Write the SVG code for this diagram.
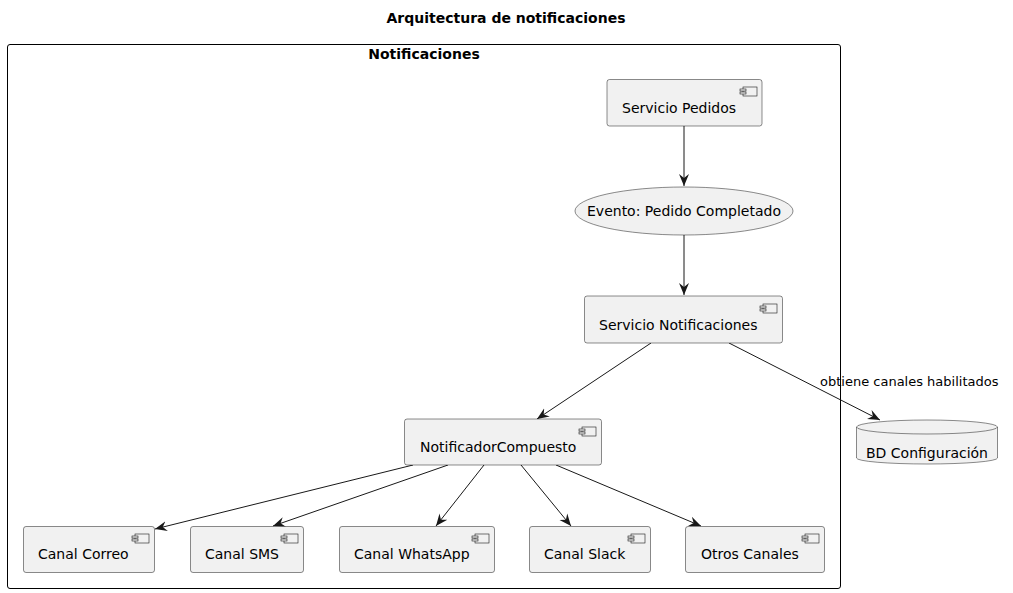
<svg xmlns="http://www.w3.org/2000/svg" width="1013" height="593" viewBox="0 0 1013 593">
<style>
.t{font-family:"DejaVu Sans",sans-serif;font-size:14px;fill:#000}
.b{font-family:"DejaVu Sans",sans-serif;font-size:14px;font-weight:bold;fill:#000}
.n{fill:#F1F1F1;stroke:#181818;stroke-width:0.5}
.e{stroke:#181818;stroke-width:1;fill:none}
.lbl{font-family:"DejaVu Sans",sans-serif;font-size:13px;fill:#000}
</style>
<defs>
<marker id="ah" markerWidth="14" markerHeight="12" refX="12" refY="6" orient="auto" markerUnits="userSpaceOnUse">
<path d="M0,1 L12,6 L0,11 L4,6 Z" fill="#181818"/>
</marker>
<g id="ic">
<rect x="0" y="0" width="14" height="9" fill="#F1F1F1" stroke="#181818" stroke-width="0.6"/>
<rect x="-3" y="2" width="6" height="2" fill="#F1F1F1" stroke="#181818" stroke-width="0.6"/>
<rect x="-3" y="5" width="6" height="2" fill="#F1F1F1" stroke="#181818" stroke-width="0.6"/>
</g>
</defs>
<rect width="1013" height="593" fill="#fff"/>
<text class="b" x="506" y="23" text-anchor="middle">Arquitectura de notificaciones</text>
<g id="frame">
<rect x="7.5" y="44.5" width="833" height="544" rx="2.5" fill="none" stroke="#000" stroke-width="1"/>
<text class="b" x="424" y="59" text-anchor="middle">Notificaciones</text>
</g>
<g id="connectors">
<line class="e" x1="684" y1="126" x2="684" y2="186" marker-end="url(#ah)"/>
<line class="e" x1="684" y1="235" x2="684" y2="295" marker-end="url(#ah)"/>
<line class="e" x1="651" y1="343" x2="537" y2="419" marker-end="url(#ah)"/>
<line class="e" x1="729" y1="343" x2="880" y2="420" marker-end="url(#ah)"/>
<text class="lbl" x="820" y="386">obtiene canales habilitados</text>
<line class="e" x1="413" y1="465" x2="155" y2="529" marker-end="url(#ah)"/>
<line class="e" x1="448" y1="465" x2="273" y2="526" marker-end="url(#ah)"/>
<line class="e" x1="484" y1="465" x2="436" y2="526" marker-end="url(#ah)"/>
<line class="e" x1="521" y1="465" x2="571" y2="526" marker-end="url(#ah)"/>
<line class="e" x1="556" y1="465" x2="701" y2="526" marker-end="url(#ah)"/>
</g>
<g id="pedidos">
<rect class="n" x="607" y="79.5" width="155" height="46.5" rx="2.5"/>
<use href="#ic" x="743" y="87"/>
<text class="t" x="622" y="113">Servicio Pedidos</text>
</g>
<g id="evento">
<ellipse class="n" cx="684" cy="211" rx="109" ry="24"/>
<text class="t" x="684" y="216" text-anchor="middle">Evento: Pedido Completado</text>
</g>
<g id="servnotif">
<rect class="n" x="584.5" y="296" width="198" height="47" rx="2.5"/>
<use href="#ic" x="763" y="304"/>
<text class="t" x="599" y="330">Servicio Notificaciones</text>
</g>
<g id="compuesto">
<rect class="n" x="404.5" y="419" width="197" height="46" rx="2.5"/>
<use href="#ic" x="582" y="427"/>
<text class="t" x="420" y="452">NotificadorCompuesto</text>
</g>
<g id="bd">
<path class="n" d="M856.5,427 A70.5,7 0 0 1 997.5,427 L997.5,458 A70.5,6 0 0 1 856.5,458 Z"/>
<path d="M856.5,427 A70.5,7 0 0 0 997.5,427" fill="none" stroke="#181818" stroke-width="0.5"/>
<text class="t" x="866" y="458">BD Configuración</text>
</g>
<g id="correo">
<rect class="n" x="23.5" y="526.5" width="131" height="46" rx="2.5"/>
<use href="#ic" x="135" y="534"/>
<text class="t" x="38" y="559">Canal Correo</text>
</g>
<g id="sms">
<rect class="n" x="190.5" y="526.5" width="113" height="46" rx="2.5"/>
<use href="#ic" x="284" y="534"/>
<text class="t" x="205" y="559">Canal SMS</text>
</g>
<g id="whatsapp">
<rect class="n" x="339.5" y="526.5" width="155" height="46" rx="2.5"/>
<use href="#ic" x="475" y="534"/>
<text class="t" x="354" y="559">Canal WhatsApp</text>
</g>
<g id="slack">
<rect class="n" x="529.5" y="526.5" width="121" height="46" rx="2.5"/>
<use href="#ic" x="631" y="534"/>
<text class="t" x="544" y="559">Canal Slack</text>
</g>
<g id="otros">
<rect class="n" x="685.5" y="526.5" width="139" height="46" rx="2.5"/>
<use href="#ic" x="805" y="534"/>
<text class="t" x="701" y="559">Otros Canales</text>
</g>
</svg>
